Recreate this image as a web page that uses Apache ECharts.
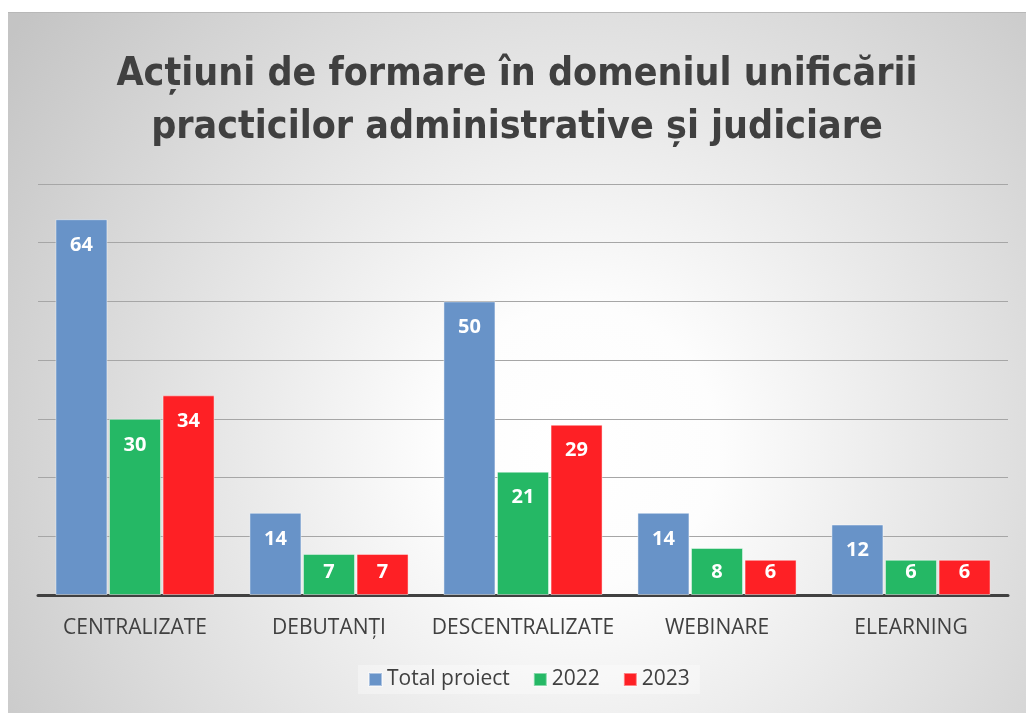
<!DOCTYPE html>
<html>
<head>
<meta charset="utf-8">
<script src="https://cdn.jsdelivr.net/npm/echarts@6/dist/echarts.min.js"></script>
<style>
    html, body { margin: 0; padding: 0; background: #fff; }
    #chart { position: absolute; left: 8px; top: 12px; width: 1018px; height: 701px; border-top: 1px solid #b8b8b8; }
</style>
</head>
<body>
<div id="chart"></div>
<script>
    var categories = ['CENTRALIZATE', 'DEBUTANȚI', 'DESCENTRALIZATE', 'WEBINARE', 'ELEARNING'];
    var totalProiect = [64, 14, 50, 14, 12];
    var values2022 = [30, 7, 21, 8, 6];
    var values2023 = [34, 7, 29, 6, 6];
    var seriesNames = ['Total proiect', '2022', '2023'];
    var seriesColors = ['#6893C8', '#25B865', '#FE2025'];

    var myChart = echarts.init(document.getElementById('chart'));

    // etichete in interiorul barei, la capat; barele mici au eticheta jos
    function makeData(arr) {
        return arr.map(function (v) {
            if (v >= 10) {
                return { value: v, label: { position: 'insideTop', distance: 16 } };
            }
            return { value: v, label: { position: 'insideBottom', distance: 13 } };
        });
    }

    function makeSeries(i, arr) {
        return {
            name: seriesNames[i],
            type: 'bar',
            barWidth: 52,
            barGap: '3%',
            itemStyle: {
                color: seriesColors[i],
                borderColor: 'rgba(255,255,255,0.45)',
                borderWidth: 1
            },
            label: {
                show: true,
                color: '#fff',
                fontFamily: 'Open Sans',
                fontWeight: 'bold',
                fontSize: 20
            },
            data: makeData(arr)
        };
    }

    var option = {
        backgroundColor: {
            type: 'radial',
            x: 0.56, y: 0.62, r: 1,
            colorStops: [
                { offset: 0, color: '#ffffff' },
                { offset: 0.2, color: '#fdfdfd' },
                { offset: 1, color: '#c4c4c4' }
            ]
        },
        title: {
            text: 'Acțiuni de formare în domeniul unificării\npracticilor administrative și judiciare',
            left: 'center',
            top: 35,
            padding: 0,
            textStyle: {
                fontFamily: 'DejaVu Sans Condensed',
                fontWeight: 'bold',
                fontSize: 39,
                lineHeight: 53,
                color: '#404040'
            }
        },
        legend: {
            data: seriesNames,
            left: 350,
            top: 652,
            padding: [4, 10],
            backgroundColor: 'rgba(255,255,255,0.35)',
            itemWidth: 13,
            itemHeight: 13,
            itemGap: 23,
            icon: 'rect',
            textStyle: {
                fontFamily: 'Open Sans',
                fontSize: 21,
                color: '#404040'
            }
        },
        grid: {
            left: 30,
            right: 18,
            top: 171,
            bottom: 119
        },
        xAxis: {
            type: 'category',
            data: categories,
            axisTick: { show: false },
            axisLine: { lineStyle: { color: '#404040', width: 3 } },
            axisLabel: {
                interval: 0,
                margin: 23,
                fontFamily: 'Open Sans',
                fontSize: 21,
                color: '#404040'
            }
        },
        yAxis: {
            type: 'value',
            min: 0,
            max: 70,
            interval: 10,
            axisLabel: { show: false },
            axisLine: { show: false },
            axisTick: { show: false },
            splitLine: { lineStyle: { color: '#a6a6a6', width: 1 } }
        },
        series: [
            makeSeries(0, totalProiect),
            makeSeries(1, values2022),
            makeSeries(2, values2023)
        ]
    };

    myChart.setOption(option);
</script>
</body>
</html>
